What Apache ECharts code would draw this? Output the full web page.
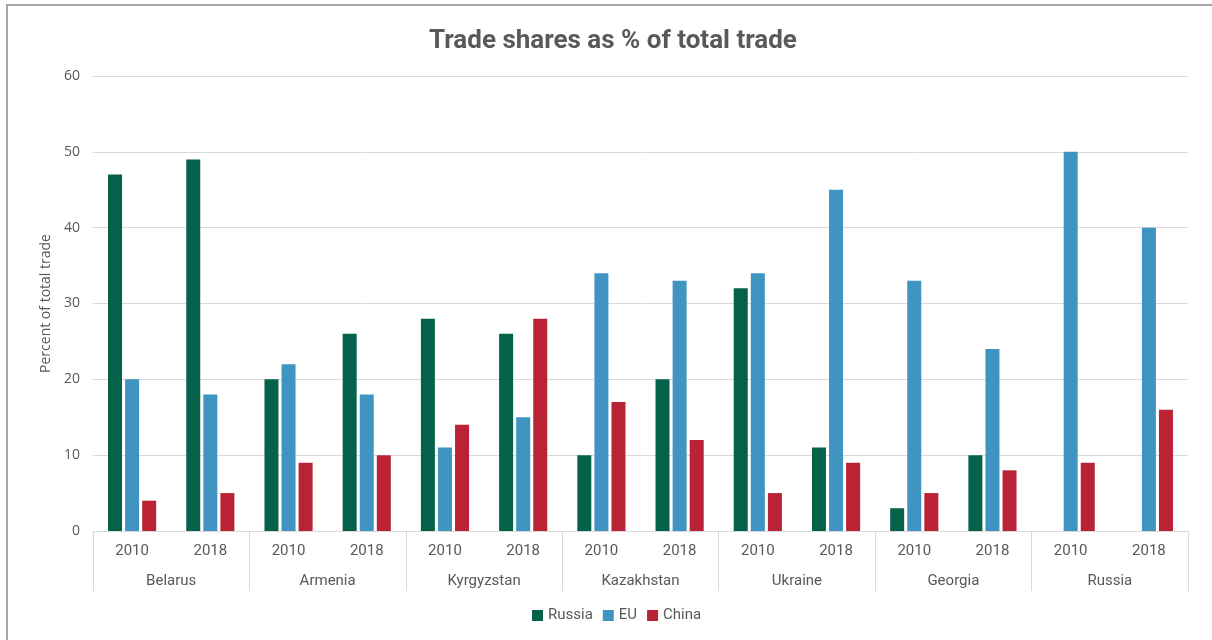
<!DOCTYPE html>
<html lang="en">
<head>
    <meta charset="UTF-8">
    <title>Trade shares</title>
    <script src="https://cdn.jsdelivr.net/npm/echarts@6/dist/echarts.min.js"></script>
    <style>
        html, body { margin: 0; background: #fff; overflow: hidden; }
        #chart { width: 1212px; height: 640px; }
    </style>
</head>
<body>
<div id="chart"></div>
<script>
    var countries = ['Belarus', 'Armenia', 'Kyrgyzstan', 'Kazakhstan', 'Ukraine', 'Georgia', 'Russia'];
    var years = ['2010', '2018', '2010', '2018', '2010', '2018', '2010', '2018',
                 '2010', '2018', '2010', '2018', '2010', '2018'];
    var russia = [47, 49, 20, 26, 28, 26, 10, 20, 32, 11, 3, 10, null, null];
    var eu = [20, 18, 22, 18, 11, 15, 34, 33, 34, 45, 33, 24, 50, 40];
    var china = [4, 5, 9, 10, 14, 28, 17, 12, 5, 9, 5, 8, 9, 16];

    var chart = echarts.init(document.getElementById('chart'));
    var textColor = '#595959';

    function bar(name, data, color) {
        return {
            name: name,
            type: 'bar',
            data: data,
            barWidth: 14,
            barGap: '22%',
            itemStyle: { color: color },
            xAxisIndex: 0
        };
    }

    chart.setOption({
        animation: false,
        // frame of the chart area (top and left edges only)
        graphic: [
            { type: 'line', shape: { x1: 6, y1: 5, x2: 1212, y2: 5 }, style: { stroke: '#a6a6a6', lineWidth: 2 } },
            { type: 'line', shape: { x1: 7, y1: 4, x2: 7, y2: 640 }, style: { stroke: '#a6a6a6', lineWidth: 2 } }
        ],
        title: {
            text: 'Trade shares as % of total trade',
            left: 424,
            top: 23,
            textStyle: { fontFamily: 'Roboto', fontSize: 26, fontWeight: 'bold', color: textColor }
        },
        legend: {
            bottom: 12,
            left: 527,
            itemWidth: 11,
            itemHeight: 11,
            itemGap: 10,
            icon: 'rect',
            textStyle: { fontFamily: 'Roboto', fontSize: 15, color: textColor }
        },
        grid: { left: 93, right: 24, top: 76, bottom: 109 },
        xAxis: [{
            type: 'category',
            data: years,
            axisLine: { lineStyle: { color: '#d9d9d9' } },
            axisTick: { show: false },
            axisLabel: { fontFamily: 'Roboto', fontSize: 15, color: textColor, margin: 13 }
        }, {
            type: 'category',
            data: countries,
            position: 'bottom',
            axisLine: { show: false },
            axisTick: { show: true, length: 60, lineStyle: { color: '#d9d9d9' } },
            axisLabel: { fontFamily: 'Roboto', fontSize: 15, color: textColor, margin: 43 }
        }],
        yAxis: {
            type: 'value',
            min: 0,
            max: 60,
            interval: 10,
            name: 'Percent of total trade',
            nameLocation: 'middle',
            nameGap: 40,
            nameTextStyle: { fontFamily: 'Open Sans', fontSize: 14, color: textColor },
            axisLabel: { fontFamily: 'Open Sans', fontSize: 14, color: textColor, margin: 13 },
            splitLine: { lineStyle: { color: '#d9d9d9' } }
        },
        series: [
            bar('Russia', russia, '#06614a'),
            bar('EU', eu, '#4094c1'),
            bar('China', china, '#b92335')
        ]
    });
</script>
</body>
</html>
